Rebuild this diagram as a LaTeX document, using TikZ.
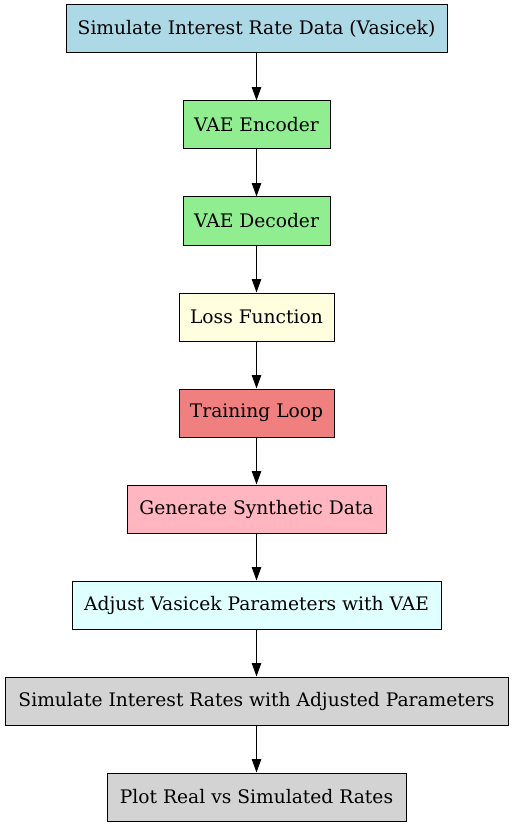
\documentclass[tikz,border=0pt]{standalone}
\usepackage{fontspec}
\setmainfont{DejaVu Serif}
\usetikzlibrary{arrows.meta}

\definecolor{lblue}{HTML}{ADD8E6}
\definecolor{lgreen}{HTML}{90EE90}
\definecolor{lyellow}{HTML}{FFFFE0}
\definecolor{lcoral}{HTML}{F08080}
\definecolor{lpink}{HTML}{FFB6C1}
\definecolor{lcyan}{HTML}{E0FFFF}
\definecolor{lgray}{HTML}{D3D3D3}

\tikzset{
stepbox/.style={draw, line width=0.75pt, minimum height=36pt, inner sep=0pt,
  font=\fontsize{14}{16}\selectfont},
flow/.style={line width=1pt, -{Triangle[length=10pt,width=7pt]}},
}

\begin{document}
\begin{tikzpicture}[x=0.75pt,y=-0.75pt]
\useasboundingbox (0,0) rectangle (513,827);
\node[stepbox, fill=lblue, minimum width=285.75pt] (sim) at (256.5,29) {Simulate Interest Rate Data (Vasicek)};
\node[stepbox, fill=lgreen, minimum width=110.25pt] (enc) at (256.5,125) {VAE Encoder};
\node[stepbox, fill=lgreen, minimum width=110.25pt] (dec) at (256.5,221) {VAE Decoder};
\node[stepbox, fill=lyellow, minimum width=116.25pt] (loss) at (256.5,317) {Loss Function};
\node[stepbox, fill=lcoral, minimum width=116.25pt] (train) at (256.5,413) {Training Loop};
\node[stepbox, fill=lpink, minimum width=194.25pt] (gen) at (256.5,509) {Generate Synthetic Data};
\node[stepbox, fill=lcyan, minimum width=276.75pt] (adj) at (256.5,605) {Adjust Vasicek Parameters with VAE};
\node[stepbox, fill=lgray, minimum width=377.25pt] (simadj) at (256.5,701) {Simulate Interest Rates with Adjusted Parameters};
\node[stepbox, fill=lgray, minimum width=224.25pt] (plot) at (256.5,797) {Plot Real vs Simulated Rates};
\foreach \a/\b in {sim/enc, enc/dec, dec/loss, loss/train, train/gen, gen/adj, adj/simadj, simadj/plot}
  \draw[flow] (\a) -- (\b);
\end{tikzpicture}
\end{document}
